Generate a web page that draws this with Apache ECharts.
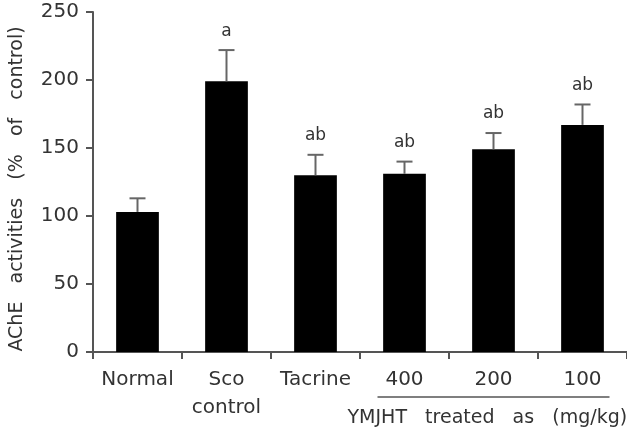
<!DOCTYPE html>
<html>
<head>
<meta charset="utf-8">
<script src="https://cdn.jsdelivr.net/npm/echarts@6/dist/echarts.min.js"></script>
<style>
  html, body { margin: 0; padding: 0; background: #fff; }
  #chart { width: 627px; height: 431px; }
</style>
</head>
<body>
<div id="chart"></div>
<script>
// group labels and values
const categories = ['Normal', 'Sco\ncontrol', 'Tacrine', '400', '200', '100']
const means = [103, 199, 130, 131, 149, 167]
const errors = [10, 23, 15, 9, 12, 15]
const letters = ['', 'a', 'ab', 'ab', 'ab', 'ab']
const yTicks = [0, 50, 100, 150, 200, 250]

const FONT = '"DejaVu Sans", sans-serif'
const AXIS_GREY = '#555'
const TEXT = '#333'

const chart = echarts.init(document.getElementById('chart'), null, { renderer: 'canvas' })

function renderErr(params, api) {
  const i = api.value(0)
  const base = api.coord([i, api.value(1)])
  const top = api.coord([i, api.value(1) + api.value(2)])
  const half = 8
  return {
    type: 'group',
    children: [
      {
        type: 'line',
        shape: { x1: base[0], y1: base[1], x2: top[0], y2: top[1] },
        style: { stroke: '#666', lineWidth: 2 }
      },
      {
        type: 'line',
        shape: { x1: top[0] - half, y1: top[1], x2: top[0] + half, y2: top[1] },
        style: { stroke: '#666', lineWidth: 2 }
      },
      {
        type: 'text',
        style: {
          x: top[0], y: top[1] - 19,
          text: letters[i],
          fill: TEXT,
          font: '17px ' + FONT,
          align: 'center',
          verticalAlign: 'middle'
        }
      }
    ]
  }
}

chart.setOption({
  animation: false,
  grid: { left: 90, right: -5, top: 12, bottom: 79, containLabel: false },
  xAxis: {
    type: 'category',
    data: categories,
    axisLine: { lineStyle: { color: AXIS_GREY, width: 2 } },
    axisTick: { show: true, interval: 0, length: 7, lineStyle: { color: AXIS_GREY, width: 2 } },
    axisLabel: {
      interval: 0,
      color: TEXT, fontFamily: FONT, fontSize: 20, margin: 14, lineHeight: 28
    }
  },
  yAxis: {
    type: 'value',
    min: 0,
    max: yTicks[yTicks.length - 1],
    interval: 50,
    name: 'AChE   activities   (%   of   control)',
    nameLocation: 'middle',
    nameGap: 66,
    nameTextStyle: { color: TEXT, fontFamily: FONT, fontSize: 19, padding: [0, 14, 0, 0] },
    splitLine: { show: false },
    axisLine: { show: true, lineStyle: { color: AXIS_GREY, width: 2 } },
    axisTick: { show: true, length: 7, lineStyle: { color: AXIS_GREY, width: 2 } },
    axisLabel: { color: TEXT, fontFamily: FONT, fontSize: 20, margin: 14 }
  },
  series: [
    {
      type: 'bar',
      data: means,
      barWidth: '48%',
      itemStyle: { color: '#000' }
    },
    {
      type: 'custom',
      renderItem: renderErr,
      data: categories.map((c, i) => [i, means[i], errors[i]]),
      z: 3
    }
  ]
})

// underline and caption for the YMJHT dose groups
const x400 = chart.convertToPixel({ xAxisIndex: 0 }, '400')
const x100 = chart.convertToPixel({ xAxisIndex: 0 }, '100')
const axisY = chart.convertToPixel({ yAxisIndex: 0 }, 0)
chart.setOption({
  graphic: [
    {
      type: 'line',
      shape: { x1: x400 - 27, y1: axisY + 45, x2: x100 + 27, y2: axisY + 45 },
      style: { stroke: AXIS_GREY, lineWidth: 1.5 }
    },
    {
      type: 'text',
      x: x400 - 57,
      y: axisY + 66,
      style: {
        text: 'YMJHT   treated   as   (mg/kg)',
        fill: TEXT,
        font: '19px ' + FONT,
        verticalAlign: 'middle'
      }
    }
  ]
})
</script>
</body>
</html>
